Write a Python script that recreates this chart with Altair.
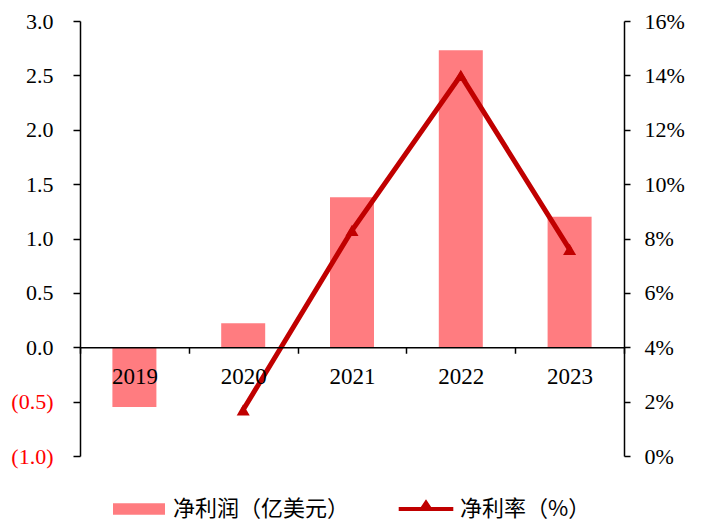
import altair as alt
import pandas as pd

years = ["2019", "2020", "2021", "2022", "2023"]
net_profit = [-0.55, 0.22, 1.38, 2.73, 1.20]          # 净利润（亿美元）
net_margin = [None, 1.7, 8.3, 14.0, 7.6]              # 净利率（%）
left_ticks = [-1.0, -0.5, 0.0, 0.5, 1.0, 1.5, 2.0, 2.5, 3.0]
right_ticks = [0, 2, 4, 6, 8, 10, 12, 14, 16]
bar_name = "净利润（亿美元）"
line_name = "净利率（%）"

BAR_COLOR = "#FF7C80"
LINE_COLOR = "#C00000"

df = pd.DataFrame({
    "year": years,
    "profit": net_profit,
    "margin": net_margin,
    "bs": [bar_name] * len(years),
    "ls": [line_name] * len(years),
})

x_enc = alt.X(
    "year:N",
    sort=years,
    scale=alt.Scale(paddingInner=0, paddingOuter=0),
    axis=alt.Axis(
        title=None, labelAngle=0, offset=-108.75, tickBand="extent",
        tickSize=6, labelPadding=12, labelFontSize=23, zindex=1,
        labelFont="Liberation Serif", labelColor="black",
    ),
)

bars = alt.Chart(df).mark_bar(size=44).encode(
    x=x_enc,
    y=alt.Y(
        "profit:Q",
        scale=alt.Scale(domain=[-1, 3], nice=False, zero=False),
        axis=alt.Axis(
            title=None, orient="left", values=left_ticks, tickSize=7,
            labelPadding=20, labelFontSize=22, labelFont="Liberation Serif",
            labelExpr="datum.value < 0 ? '(' + format(-datum.value, '.1f') + ')' : format(datum.value, '.1f')",
            labelColor={"expr": "datum.value < 0 ? '#FF0000' : '#000000'"},
        ),
    ),
    fill=alt.Fill(
        "bs:N",
        scale=alt.Scale(domain=[bar_name], range=[BAR_COLOR]),
        legend=alt.Legend(
            title=None, orient="none", legendX=46, legendY=475, padding=0,
            symbolType="M-2,-0.45H2V0.45H-2Z", symbolSize=676,
            symbolStrokeWidth=0, labelOffset=21, labelLimit=400,
            labelFont="Noto Sans CJK SC", labelFontSize=22, labelColor="black",
        ),
    ),
)

y_right = alt.Y(
    "margin:Q",
    scale=alt.Scale(domain=[0, 16], nice=False, zero=True),
    axis=alt.Axis(
        title=None, orient="right", values=right_ticks, tickSize=6,
        labelPadding=14, labelFontSize=22, labelFont="Liberation Serif",
        labelExpr="datum.value + '%'", labelColor="black",
    ),
)

line = alt.Chart(df).mark_line(strokeWidth=5).encode(
    x=alt.X("year:N", sort=years),
    y=y_right,
    stroke=alt.Stroke(
        "ls:N",
        scale=alt.Scale(domain=[line_name], range=[LINE_COLOR]),
        legend=alt.Legend(
            title=None, orient="none", legendX=333, legendY=475, padding=0,
            symbolType="M-2.1,-0.15H2.1V0.15H-2.1Z M-0.6,0.15L0,-0.75L0.6,0.15Z",
            symbolSize=676, symbolStrokeWidth=0,
            symbolFillColor=LINE_COLOR, labelOffset=21, labelLimit=400,
            labelFont="Noto Sans CJK SC", labelFontSize=22, labelColor="black",
        ),
    ),
)

pts = alt.Chart(df).mark_point(
    shape="triangle-up", filled=True, size=170, color=LINE_COLOR, opacity=1
).encode(
    x=alt.X("year:N", sort=years),
    y=alt.Y("margin:Q"),
)

right = alt.layer(line, pts)

chart = alt.layer(bars, right).resolve_scale(
    y="independent"
).properties(
    width=544, height=435,
    autosize=alt.AutoSizeParams(type="none"),
    padding={"left": 80, "top": 21, "right": 78, "bottom": 64},
    background="white",
).configure_view(stroke=None).configure_axis(
    domainColor="black", tickColor="black", domainWidth=1.5, tickWidth=1.5, grid=False,
)

chart.save("out.html", embed_options={"renderer": "svg", "actions": False})
